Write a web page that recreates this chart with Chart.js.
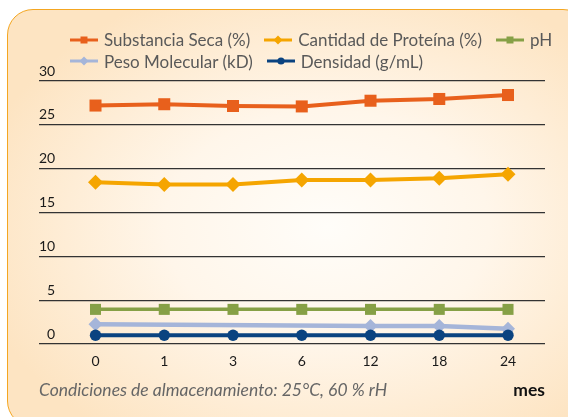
<!DOCTYPE html>
<html>
<head>
<meta charset="utf-8">
<script src="https://cdn.jsdelivr.net/npm/chart.js@4.4.0/dist/chart.umd.min.js"></script>
<style>
  html, body { margin: 0; padding: 0; background: #fff; overflow: hidden; }
  .frame {
    position: absolute; left: 7px; top: 9px; width: 580px; height: 416px;
    border: 1.5px solid #f4a621; border-radius: 26px;
    background: radial-gradient(ellipse 62% 62% at 55% 52%, #fffdf9 0%, #fff6ea 45%, #fde4c2 100%);
  }
  #chart { position: absolute; left: 0; top: 0; }
  #legend {
    position: absolute; left: 70px; top: 29px; width: 505px;
    display: flex; flex-wrap: wrap;
    font: 17px Lato, sans-serif; color: #595959;
  }
  #legend .item { display: flex; align-items: center; height: 21.6px; margin-right: 14px; white-space: nowrap; }
  #legend canvas { margin-right: 6px; }
</style>
</head>
<body>
<div class="frame"></div>
<canvas id="chart" width="568" height="417"></canvas>
<div id="legend"></div>
<script>
// months of storage (x axis)
const months = ['0', '1', '3', '6', '12', '18', '24'];

const substanciaSeca = [27.2, 27.35, 27.15, 27.1, 27.75, 27.95, 28.4];
const proteina = [18.45, 18.2, 18.2, 18.7, 18.7, 18.9, 19.35];
const ph = [3.95, 3.95, 3.95, 3.95, 3.95, 3.95, 3.95];
const pesoMolecular = [2.25, null, null, null, 2.05, 2.05, 1.75];
const densidad = [1.0, 1.0, 1.0, 1.0, 1.0, 1.0, 1.0];

const yMin = 0, yMax = 30, yStep = 5;

const toPoints = arr => arr.map((v, i) => ({ x: i, y: v }));

Chart.defaults.font.family = 'Lato, sans-serif';

const ctx = document.getElementById('chart').getContext('2d');
const chart = new Chart(ctx, {
  type: 'line',
  data: {
    datasets: [
      { label: 'Substancia Seca (%)', data: toPoints(substanciaSeca), borderColor: '#e8601c', backgroundColor: '#e8601c',
        borderWidth: 4, pointStyle: 'rect', pointRadius: 8.5, order: 0 },
      { label: 'Cantidad de Proteína (%)', data: toPoints(proteina), borderColor: '#f5a500', backgroundColor: '#f5a500',
        borderWidth: 4, pointStyle: 'rectRot', pointRadius: 7.5, order: 0 },
      { label: 'pH', data: toPoints(ph), borderColor: '#86a046', backgroundColor: '#86a046',
        borderWidth: 3.5, pointStyle: 'rect', pointRadius: 7.8, order: 0 },
      { label: 'Peso Molecular (kD)', data: toPoints(pesoMolecular), borderColor: '#a5b5d9', backgroundColor: '#a5b5d9',
        borderWidth: 4.5, pointStyle: 'rectRot', pointRadius: 7, spanGaps: true, order: 1 },
      { label: 'Densidad (g/mL)', data: toPoints(densidad), borderColor: '#0a4380', backgroundColor: '#0a4380',
        borderWidth: 4, pointStyle: 'circle', pointRadius: 5.7, order: 0 }
    ]
  },
  options: {
    responsive: false,
    animation: false,
    layout: { padding: { left: 39, right: 23, top: 81, bottom: 16 } },
    elements: { line: { tension: 0 } },
    datasets: { line: { pointBorderWidth: 0, pointHoverBorderWidth: 0 } },
    plugins: {
      legend: { display: false },
      tooltip: { enabled: false },
      subtitle: {
        display: true,
        position: 'bottom',
        align: 'start',
        text: 'Condiciones de almacenamiento: 25°C, 60 % rH',
        color: '#666',
        font: { size: 17.5, style: 'italic' },
        padding: { top: -21, bottom: 0 }
      }
    },
    scales: {
      x: {
        type: 'linear',
        min: -0.822,
        max: 6.538,
        grid: { display: false, drawTicks: false },
        border: { display: false },
        ticks: {
          stepSize: 1,
          includeBounds: false,
          maxRotation: 0,
          padding: 9,
          color: '#1a1a1a',
          font: { size: 14 },
          callback: v => months[v] ?? ''
        },
        title: {
          display: true,
          text: 'mes',
          align: 'end',
          color: '#111',
          font: { size: 17.5, weight: 'bold' },
          padding: { top: 1.2, bottom: 0 }
        }
      },
      y: {
        min: yMin,
        max: yMax,
        grid: { color: '#333', lineWidth: 1.2, drawTicks: false },
        border: { display: false },
        ticks: {
          stepSize: yStep,
          mirror: true,
          crossAlign: 'far',
          padding: 0,
          labelOffset: -10,
          color: '#1a1a1a',
          font: { size: 14 }
        }
      }
    }
  }
});

// legend as html, markers drawn from the dataset styles
function buildLegend(chart) {
  const box = document.getElementById('legend');
  chart.data.datasets.forEach(ds => {
    const item = document.createElement('div');
    item.className = 'item';
    const c = document.createElement('canvas');
    c.width = 28; c.height = 14;
    const g = c.getContext('2d');
    g.strokeStyle = ds.borderColor;
    g.fillStyle = ds.borderColor;
    g.lineWidth = 3;
    g.beginPath(); g.moveTo(0, 7); g.lineTo(28, 7); g.stroke();
    g.beginPath();
    if (ds.pointStyle === 'rect') {
      g.rect(10.5, 3.5, 7, 7);
    } else if (ds.pointStyle === 'rectRot') {
      g.moveTo(14, 2.5); g.lineTo(18.5, 7); g.lineTo(14, 11.5); g.lineTo(9.5, 7); g.closePath();
    } else {
      g.arc(14, 7, 3.6, 0, Math.PI * 2);
    }
    g.fill();
    const span = document.createElement('span');
    span.textContent = ds.label;
    item.appendChild(c);
    item.appendChild(span);
    box.appendChild(item);
  });
}
buildLegend(chart);
</script>
</body>
</html>
